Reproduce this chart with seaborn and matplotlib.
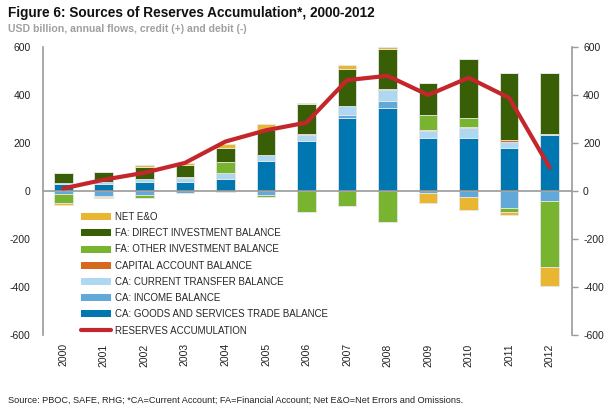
import numpy as np
import pandas as pd
import matplotlib
matplotlib.use("Agg")
import matplotlib.pyplot as plt
import seaborn as sns
from matplotlib.patches import Patch
from matplotlib.lines import Line2D

# values (USD billion)
years = [str(y) for y in range(2000, 2013)]
goods_services = [29, 28, 37, 36, 51, 125, 209, 306, 347, 219, 222, 181, 232]
income = [-14, -19, -15, -8, -5, -16, 0, 10, 29, -8, -25, -69, -42]
current_transfer = [6, 8, 12, 18, 23, 23, 25, 37, 44, 33, 40, 25, 0]
capital_account = [0, 0, 0, 0, 0, 4, 4, 3, 3, 4, 4, 5, 6]
other_investment = [-35, -5, -15, 6, 46, -11, -86, -62, -130, 62, 40, -18, -275]
direct_investment = [38, 45, 51, 47, 61, 104, 124, 154, 169, 131, 243, 279, 254]
net_eo = [-11, -5, 10, 9, 14, 22, 4, 15, 8, -42, -53, -15, -79]
reserves = [10.5, 47, 76, 117, 206, 253, 285, 462, 480, 400, 472, 388, 97]

components = [
    ("CA: GOODS AND SERVICES TRADE BALANCE", goods_services, "#0077b0"),
    ("CA: INCOME BALANCE", income, "#62a8d8"),
    ("CA: CURRENT TRANSFER BALANCE", current_transfer, "#aed8f2"),
    ("CAPITAL ACCOUNT BALANCE", capital_account, "#d4691f"),
    ("FA: OTHER INVESTMENT BALANCE", other_investment, "#78b42f"),
    ("FA: DIRECT INVESTMENT BALANCE", direct_investment, "#385e06"),
    ("NET E&O", net_eo, "#e8b631"),
]

sns.set_theme(style="white")
plt.rcParams["font.family"] = ["Liberation Sans", "DejaVu Sans"]
plt.rcParams["axes.unicode_minus"] = False

fig = plt.figure(figsize=(6.12, 4.12), dpi=100)
ax = fig.add_axes([43 / 612, 1 - 335 / 412, 529 / 612, 288 / 412])

x = np.arange(len(years))
pos_bottom = np.zeros(len(years))
neg_bottom = np.zeros(len(years))
for name, vals, color in components:
    v = np.array(vals, dtype=float)
    pos = np.where(v > 0, v, 0)
    neg = np.where(v < 0, v, 0)
    ax.bar(x, pos, bottom=pos_bottom, width=0.46, color=color,
           edgecolor="#e6e6e6", linewidth=0.6, zorder=2)
    ax.bar(x, neg, bottom=neg_bottom, width=0.46, color=color,
           edgecolor="#e6e6e6", linewidth=0.6, zorder=2)
    pos_bottom += pos
    neg_bottom += neg

line_df = pd.DataFrame({"x": x, "reserves": reserves})
sns.lineplot(data=line_df, x="x", y="reserves", ax=ax, color="#c4262b",
             linewidth=3, zorder=4)

ax.axhline(0, color="#999999", linewidth=1.2, zorder=3)
ax.set_xlim(-0.5, 12.55)
ax.set_ylim(-600, 600)
ax.set_yticks(range(-600, 601, 200))
ax.set_xticks(x)
ax.set_xticklabels(years, rotation=90)
ax.set_xlabel("")
ax.set_ylabel("")
for s in ["top", "bottom", "right"]:
    ax.spines[s].set_visible(False)
ax.spines["left"].set_color("#999999")
ax.spines["left"].set_linewidth(1.2)
ax.tick_params(axis="y", length=0, pad=9, labelsize=7.5, labelcolor="#222222")
ax.tick_params(axis="x", length=0, pad=6, labelsize=7.5, labelcolor="#222222")

ax2 = ax.twinx()
ax2.set_ylim(-600, 600)
ax2.set_yticks(range(-600, 601, 200))
for s in ["top", "bottom", "left"]:
    ax2.spines[s].set_visible(False)
ax2.spines["right"].set_color("#999999")
ax2.spines["right"].set_linewidth(1.2)
ax2.tick_params(axis="y", direction="out", length=4, width=1, color="#999999",
                pad=4, labelsize=7.5, labelcolor="#222222")
ax2.grid(False)

handles = [Patch(facecolor=c, edgecolor="none", label=n)
           for n, _, c in reversed(components)]
handles.append(Line2D([0], [0], color="#c4262b", linewidth=3,
                      label="RESERVES ACCUMULATION"))
fig.legend(handles=handles, loc="upper left",
           bbox_to_anchor=(81 / 612, 1 - 212 / 412), frameon=False,
           fontsize=7, handlelength=3.1, handleheight=0.72,
           handletextpad=0.36, labelspacing=0.64, borderpad=0,
           borderaxespad=0)

fig.text(8 / 612, 1 - 13 / 412, "Figure 6: Sources of Reserves Accumulation*, 2000-2012",
         fontsize=9.8, fontweight="bold", color="#111111", va="center")
fig.text(8 / 612, 1 - 29 / 412, "USD billion, annual flows, credit (+) and debit (-)",
         fontsize=7.6, fontweight="bold", color="#a0a0a0", va="center")
fig.text(8 / 612, 1 - 400 / 412,
         "Source: PBOC, SAFE, RHG; *CA=Current Account; FA=Financial Account; "
         "Net E&O=Net Errors and Omissions.",
         fontsize=6.6, color="#222222", va="center")

fig.savefig("out.png", dpi=100)
